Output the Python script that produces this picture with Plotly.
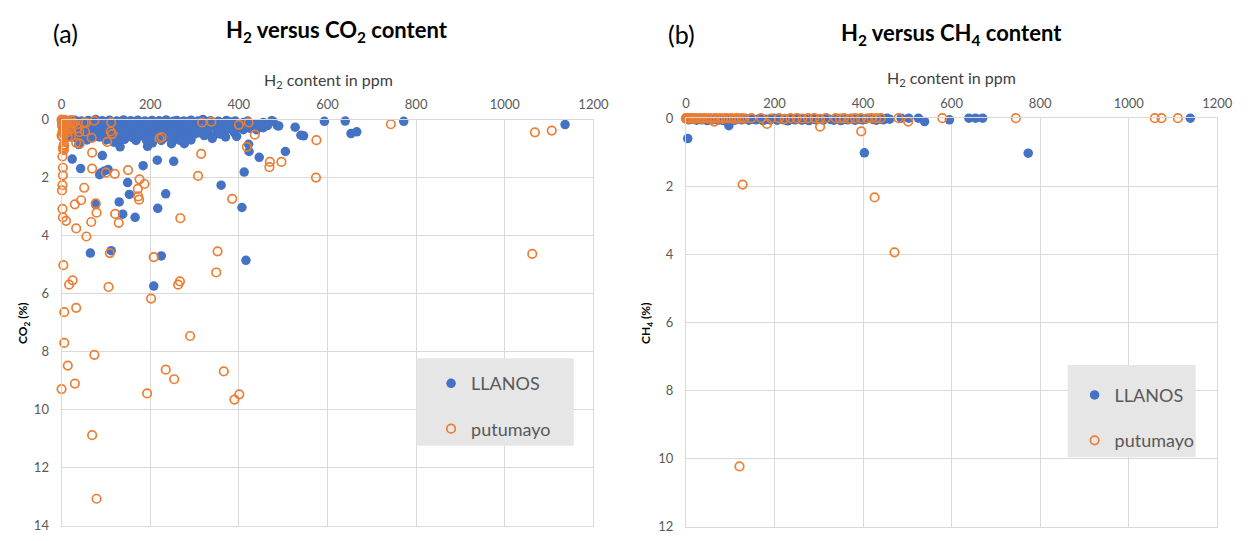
import plotly.graph_objects as go

W, H = 1252, 541
BLUE = "#4472C4"
ORANGE = "#ED7D31"
GRID = "#d9d9d9"
TICK = "#595959"
FONT = "Lato, Open Sans, sans-serif"

# ---------------- data: panel (a) H2 (ppm) vs CO2 (%) ----------------
llanos_co2_points = [
    (0, 0.05), (8, 0.1), (15, 0.03), (22, 0.08), (30, 0.02), (38, 0.1), (45, 0.05), (52, 0.12),
    (60, 0.03), (68, 0.08), (77, 0.0), (84, 0.1), (92, 0.04), (100, 0.09), (108, 0.02), (116, 0.11),
    (124, 0.05), (132, 0.08), (140, 0.01), (148, 0.1), (156, 0.04), (164, 0.07), (172, 0.02), (180, 0.12),
    (188, 0.05), (196, 0.09), (204, 0.03), (212, 0.1), (220, 0.04), (228, 0.08), (236, 0.01), (244, 0.11),
    (252, 0.06), (260, 0.03), (268, 0.1), (276, 0.05), (284, 0.08), (292, 0.02), (300, 0.11), (308, 0.05),
    (319, 0.0), (328, 0.09), (336, 0.04), (345, 0.1), (354, 0.06), (363, 0.11), (372, 0.03), (382, 0.08),
    (392, 0.05), (404, 0.15), (410, 0.1), (420, 0.05), (433, 0.15), (444, 0.15), (455, 0.1), (474, 0.04),
    (487, 0.21),
    (3, 0.3), (12, 0.22), (20, 0.38), (28, 0.25), (36, 0.33), (44, 0.2), (55, 0.36), (63, 0.26),
    (72, 0.4), (80, 0.22), (88, 0.32), (96, 0.45), (104, 0.27), (113, 0.37), (121, 0.2), (130, 0.3),
    (138, 0.42), (146, 0.25), (155, 0.35), (163, 0.22), (171, 0.4), (180, 0.3), (190, 0.24), (198, 0.38),
    (206, 0.2), (215, 0.33), (224, 0.27), (232, 0.4), (241, 0.22), (250, 0.35), (259, 0.28), (268, 0.2),
    (277, 0.36), (286, 0.25), (296, 0.3), (306, 0.22), (316, 0.38), (326, 0.27), (338, 0.2), (350, 0.32),
    (362, 0.25), (375, 0.2),
    (8, 0.5), (20, 0.48), (35, 0.65), (48, 0.58), (62, 0.52), (70, 0.62), (78, 0.48), (95, 0.55),
    (100, 0.7), (115, 0.48), (118, 0.78), (135, 0.55), (142, 0.68), (158, 0.45), (168, 0.72), (185, 0.5),
    (200, 0.62), (205, 0.8), (220, 0.45), (225, 0.72), (240, 0.55), (255, 0.65), (262, 0.48), (285, 0.5),
    (292, 0.7), (310, 0.45), (330, 0.42), (350, 0.48), (370, 0.4), (380, 0.3), (395, 0.3), (410, 0.35),
    (425, 0.3), (440, 0.35), (455, 0.28), (465, 0.2), (370, 0.6), (395, 0.58),
    (15, 0.6), (30, 0.55), (42, 0.5), (57, 0.7), (85, 0.6), (108, 0.55), (122, 0.68), (130, 0.82),
    (150, 0.5), (160, 0.62), (175, 0.58), (192, 0.72), (210, 0.55), (232, 0.62), (245, 0.5), (266, 0.71),
    (280, 0.6), (300, 0.5), (322, 0.55), (340, 0.65), (358, 0.5), (390, 0.45),
    (24, 1.36), (43, 1.69), (39, 0.86), (92, 1.24), (90, 1.83), (97, 1.77), (105, 1.72), (86, 1.9),
    (77, 2.93), (149, 2.17), (153, 2.58), (130, 2.84), (138, 3.26), (166, 3.37), (184, 1.59), (216, 1.4),
    (253, 1.44), (235, 2.56), (217, 3.06), (360, 2.26), (412, 1.81), (407, 3.03), (423, 1.1), (446, 1.3),
    (505, 1.1), (546, 0.56), (65, 4.6), (112, 4.52), (225, 4.7), (416, 4.85), (208, 5.74), (132, 0.94),
    (194, 0.92), (248, 0.83), (277, 0.83), (270, 0.69), (653, 0.48), (666, 0.42), (593, 0.06), (640, 0.05),
    (772, 0.06), (1136, 0.17), (527, 0.26), (540, 0.54), (477, 0.06), (490, 0.22), (422, 0.85),
]

putumayo_co2_points = [
    (0, 0.0), (2, 0.05), (4, 0.12), (1, 0.2), (3, 0.28), (6, 0.35), (2, 0.42), (8, 0.02),
    (10, 0.1), (12, 0.18), (5, 0.5), (14, 0.05), (16, 0.25), (18, 0.12), (20, 0.3), (9, 0.4),
    (22, 0.02), (25, 0.15), (0, 0.55), (2, 0.6), (4, 0.95), (6, 0.9), (3, 1.0), (12, 0.45), (7, 0.22),
    (5, 0.86), (5, 1.05), (14, 0.58), (33, 0.8), (40, 0.43),
    (21, 0.6), (28, 0.11), (35, 0.3), (41, 0.83), (50, 0.1), (53, 0.41), (55, 0.11), (68, 0.63),
    (69, 1.14), (69, 1.69), (74, 0.04), (103, 0.77), (111, 0.41), (112, 0.1), (114, 0.5), (100, 1.83),
    (120, 1.87), (150, 1.74), (2, 1.27), (3, 1.66), (3, 1.92), (2, 2.26), (1, 2.44), (51, 2.35),
    (44, 2.78), (30, 2.92), (77, 2.89), (79, 3.21), (121, 3.25), (129, 3.56), (67, 3.53), (2, 3.08),
    (3, 3.37), (10, 3.49), (33, 3.75), (56, 4.03), (176, 2.06), (187, 2.22), (172, 2.39), (173, 2.65),
    (175, 2.76), (221, 0.65), (226, 0.6), (268, 3.4), (308, 1.94), (315, 1.18), (385, 2.73), (317, 0.1),
    (338, 0.07), (400, 0.18), (422, 0.1), (436, 0.52), (418, 0.94), (470, 1.46), (469, 1.64), (496, 1.46),
    (575, 0.71), (574, 2.0), (743, 0.16), (1068, 0.44), (1106, 0.38), (109, 4.6), (352, 4.54), (208, 4.74),
    (4, 5.02), (25, 5.54), (17, 5.69), (106, 5.77), (267, 5.58), (263, 5.69), (349, 5.27), (202, 6.17),
    (6, 6.64), (33, 6.49), (1062, 4.63), (6, 7.7), (74, 8.11), (14, 8.48), (30, 9.1), (0, 9.29),
    (69, 10.88), (79, 13.07), (193, 9.44), (235, 8.62), (254, 8.95), (290, 7.46), (366, 8.68), (390, 9.65),
    (401, 9.47),
]

# ---------------- data: panel (b) H2 (ppm) vs CH4 (%) ----------------
llanos_ch4_points = [
    (0, 0.02), (6, 0.05), (12, 0.0), (18, 0.04), (24, 0.06), (30, 0.01), (36, 0.05), (42, 0.03),
    (48, 0.07), (54, 0.02), (60, 0.05), (66, 0.0), (72, 0.06), (78, 0.03), (84, 0.07), (90, 0.01),
    (102, 0.04), (110, 0.06), (118, 0.02), (126, 0.05), (134, 0.0), (142, 0.06), (150, 0.03), (158, 0.05),
    (166, 0.01), (174, 0.07), (182, 0.03), (190, 0.05), (198, 0.0), (206, 0.06), (214, 0.02), (222, 0.05),
    (230, 0.08), (238, 0.02), (246, 0.05), (254, 0.0), (262, 0.06), (270, 0.03), (278, 0.07), (286, 0.01),
    (294, 0.05), (302, 0.02), (310, 0.06), (318, 0.0), (326, 0.04), (334, 0.06), (342, 0.02), (350, 0.07),
    (358, 0.03), (366, 0.05), (374, 0.0), (382, 0.06), (390, 0.02), (398, 0.05), (406, 0.03), (414, 0.0),
    (422, 0.04), (430, 0.06), (438, 0.02), (446, 0.05), (454, 0.0), (460, 0.03),
    (486, 0.0), (503, 0.0), (525, 0.0), (539, 0.1), (595, 0.05), (639, 0.0), (654, 0.0), (670, 0.0),
    (1139, 0.0), (4, 0.6), (97, 0.22), (403, 1.02), (773, 1.03),
]

putumayo_ch4_points = [
    (0, 0.0), (3, 0.02), (6, 0.0), (10, 0.01), (14, 0.0), (18, 0.02), (22, 0.0), (27, 0.01),
    (32, 0.0), (37, 0.02), (42, 0.0), (48, 0.01), (54, 0.0), (60, 0.02), (66, 0.0), (72, 0.01),
    (78, 0.0), (84, 0.02), (90, 0.0), (96, 0.01), (102, 0.0), (108, 0.02), (114, 0.0), (120, 0.01),
    (126, 0.0), (132, 0.02), (148, 0.0), (170, 0.0), (192, 0.01), (210, 0.0), (223, 0.02), (236, 0.0),
    (250, 0.0), (263, 0.01), (276, 0.0), (290, 0.0), (303, 0.02), (316, 0.0), (338, 0.0), (348, 0.01),
    (357, 0.0), (370, 0.02), (382, 0.0), (395, 0.0), (409, 0.01), (419, 0.0), (430, 0.0), (440, 0.0),
    (480, 0.0), (502, 0.1), (579, 0.0), (745, 0.0), (1059, 0.0), (1074, 0.0), (1111, 0.0),
    (64, 0.1), (183, 0.17), (303, 0.25), (396, 0.39), (128, 1.95), (426, 2.33), (471, 3.94), (121, 10.23),
]

x_ticks = [0, 200, 400, 600, 800, 1000, 1200]
co2_ticks = [0, 2, 4, 6, 8, 10, 12, 14]
ch4_ticks = [0, 2, 4, 6, 8, 10, 12]


def px_x(p):
    return p / W


def px_y(p):
    return 1 - p / H


fig = go.Figure()

panels = [
    ("x", "y", "legend", llanos_co2_points, putumayo_co2_points),
    ("x2", "y2", "legend2", llanos_ch4_points, putumayo_ch4_points),
]
for xa, ya, lg, lpts, ppts in panels:
    fig.add_trace(go.Scatter(
        x=[p[0] for p in lpts], y=[p[1] for p in lpts], mode="markers", name="LLANOS",
        xaxis=xa, yaxis=ya, legend=lg, legendgroup=lg + "a", cliponaxis=False,
        marker=dict(symbol="circle", size=9.5, color=BLUE, line=dict(width=0)),
    ))
    fig.add_trace(go.Scatter(
        x=[p[0] for p in ppts], y=[p[1] for p in ppts], mode="markers", name="putumayo",
        xaxis=xa, yaxis=ya, legend=lg, legendgroup=lg + "b", cliponaxis=False,
        marker=dict(symbol="circle-open", size=8.5, color=ORANGE, line=dict(width=1.7, color=ORANGE)),
    ))

axis_common = dict(
    showgrid=True, gridcolor=GRID, gridwidth=1, zeroline=False,
    showline=True, linecolor=GRID, linewidth=1, mirror=True, ticks="",
    tickfont=dict(family=FONT, size=13, color=TICK), fixedrange=True,
    ticklabeloverflow="allow",
)

fig.update_layout(
    width=W, height=H, margin=dict(l=0, r=0, t=0, b=0),
    paper_bgcolor="white", plot_bgcolor="white", font=dict(family=FONT),
    xaxis=dict(domain=[px_x(58.5), px_x(599)], range=[0, 1200], tickvals=x_ticks, side="top",
               anchor="y", ticklabelstandoff=4, **axis_common),
    yaxis=dict(domain=[px_y(533.5), px_y(115)], range=[14, 0], tickvals=co2_ticks,
               anchor="x", ticklabelstandoff=9, **axis_common),
    xaxis2=dict(domain=[px_x(693), px_x(1233)], range=[0, 1200], tickvals=x_ticks, side="top",
                anchor="y2", ticklabelstandoff=4, **axis_common),
    yaxis2=dict(domain=[px_y(534.5), px_y(113.5)], range=[12, 0], tickvals=ch4_ticks,
                anchor="x2", ticklabelstandoff=9, **axis_common),
    legend=dict(x=px_x(434), y=px_y(368), xanchor="left", yanchor="top",
                bgcolor="rgba(0,0,0,0)", font=dict(family=FONT, size=18, color=TICK),
                tracegroupgap=19, itemclick=False, itemdoubleclick=False),
    legend2=dict(x=px_x(1088), y=px_y(380), xanchor="left", yanchor="top",
                 bgcolor="rgba(0,0,0,0)", font=dict(family=FONT, size=18, color=TICK),
                 tracegroupgap=19, itemclick=False, itemdoubleclick=False),
    shapes=[
        dict(type="rect", xref="paper", yref="paper", x0=px_x(419), x1=px_x(579),
             y0=px_y(451), y1=px_y(361), fillcolor="#e7e6e6", line=dict(width=0), layer="above"),
        dict(type="rect", xref="paper", yref="paper", x0=px_x(1081), x1=px_x(1211),
             y0=px_y(463), y1=px_y(368), fillcolor="#e7e6e6", line=dict(width=0), layer="above"),
    ],
)

annotations = [
    dict(text="(a)", x=62, y=26, size=25, bold=False),
    dict(text="H<sub>2</sub> versus CO<sub>2</sub> content", x=338, y=24, size=22, bold=True),
    dict(text="(b)", x=689, y=27, size=25, bold=False),
    dict(text="H<sub>2</sub> versus CH<sub>4</sub> content", x=963, y=27, size=22, bold=True),
    dict(text="H<sub>2</sub> content in ppm", x=330, y=75, size=16, bold=False, color="#404040"),
    dict(text="H<sub>2</sub> content in ppm", x=963, y=73, size=16, bold=False, color="#404040"),
]
for a in annotations:
    txt = "<b>" + a["text"] + "</b>" if a["bold"] else a["text"]
    fig.add_annotation(text=txt, x=px_x(a["x"]), y=px_y(a["y"]), xref="paper", yref="paper",
                       xanchor="center", yanchor="middle", showarrow=False,
                       font=dict(family=FONT, size=a["size"], color=a.get("color", "black")))

for txt, xp, yp in [("<b>CO<sub>2</sub> (%)</b>", 20, 325), ("<b>CH<sub>4</sub> (%)</b>", 653, 325)]:
    fig.add_annotation(text=txt, x=px_x(xp), y=px_y(yp), xref="paper", yref="paper",
                       xanchor="center", yanchor="middle", showarrow=False, textangle=-90,
                       font=dict(family=FONT, size=12, color="black"))

# the figure fills the whole window: drop the browser's default page margin
fig.write_html("out.html", config={"displayModeBar": False},
               post_script="document.body.style.margin='0';")
